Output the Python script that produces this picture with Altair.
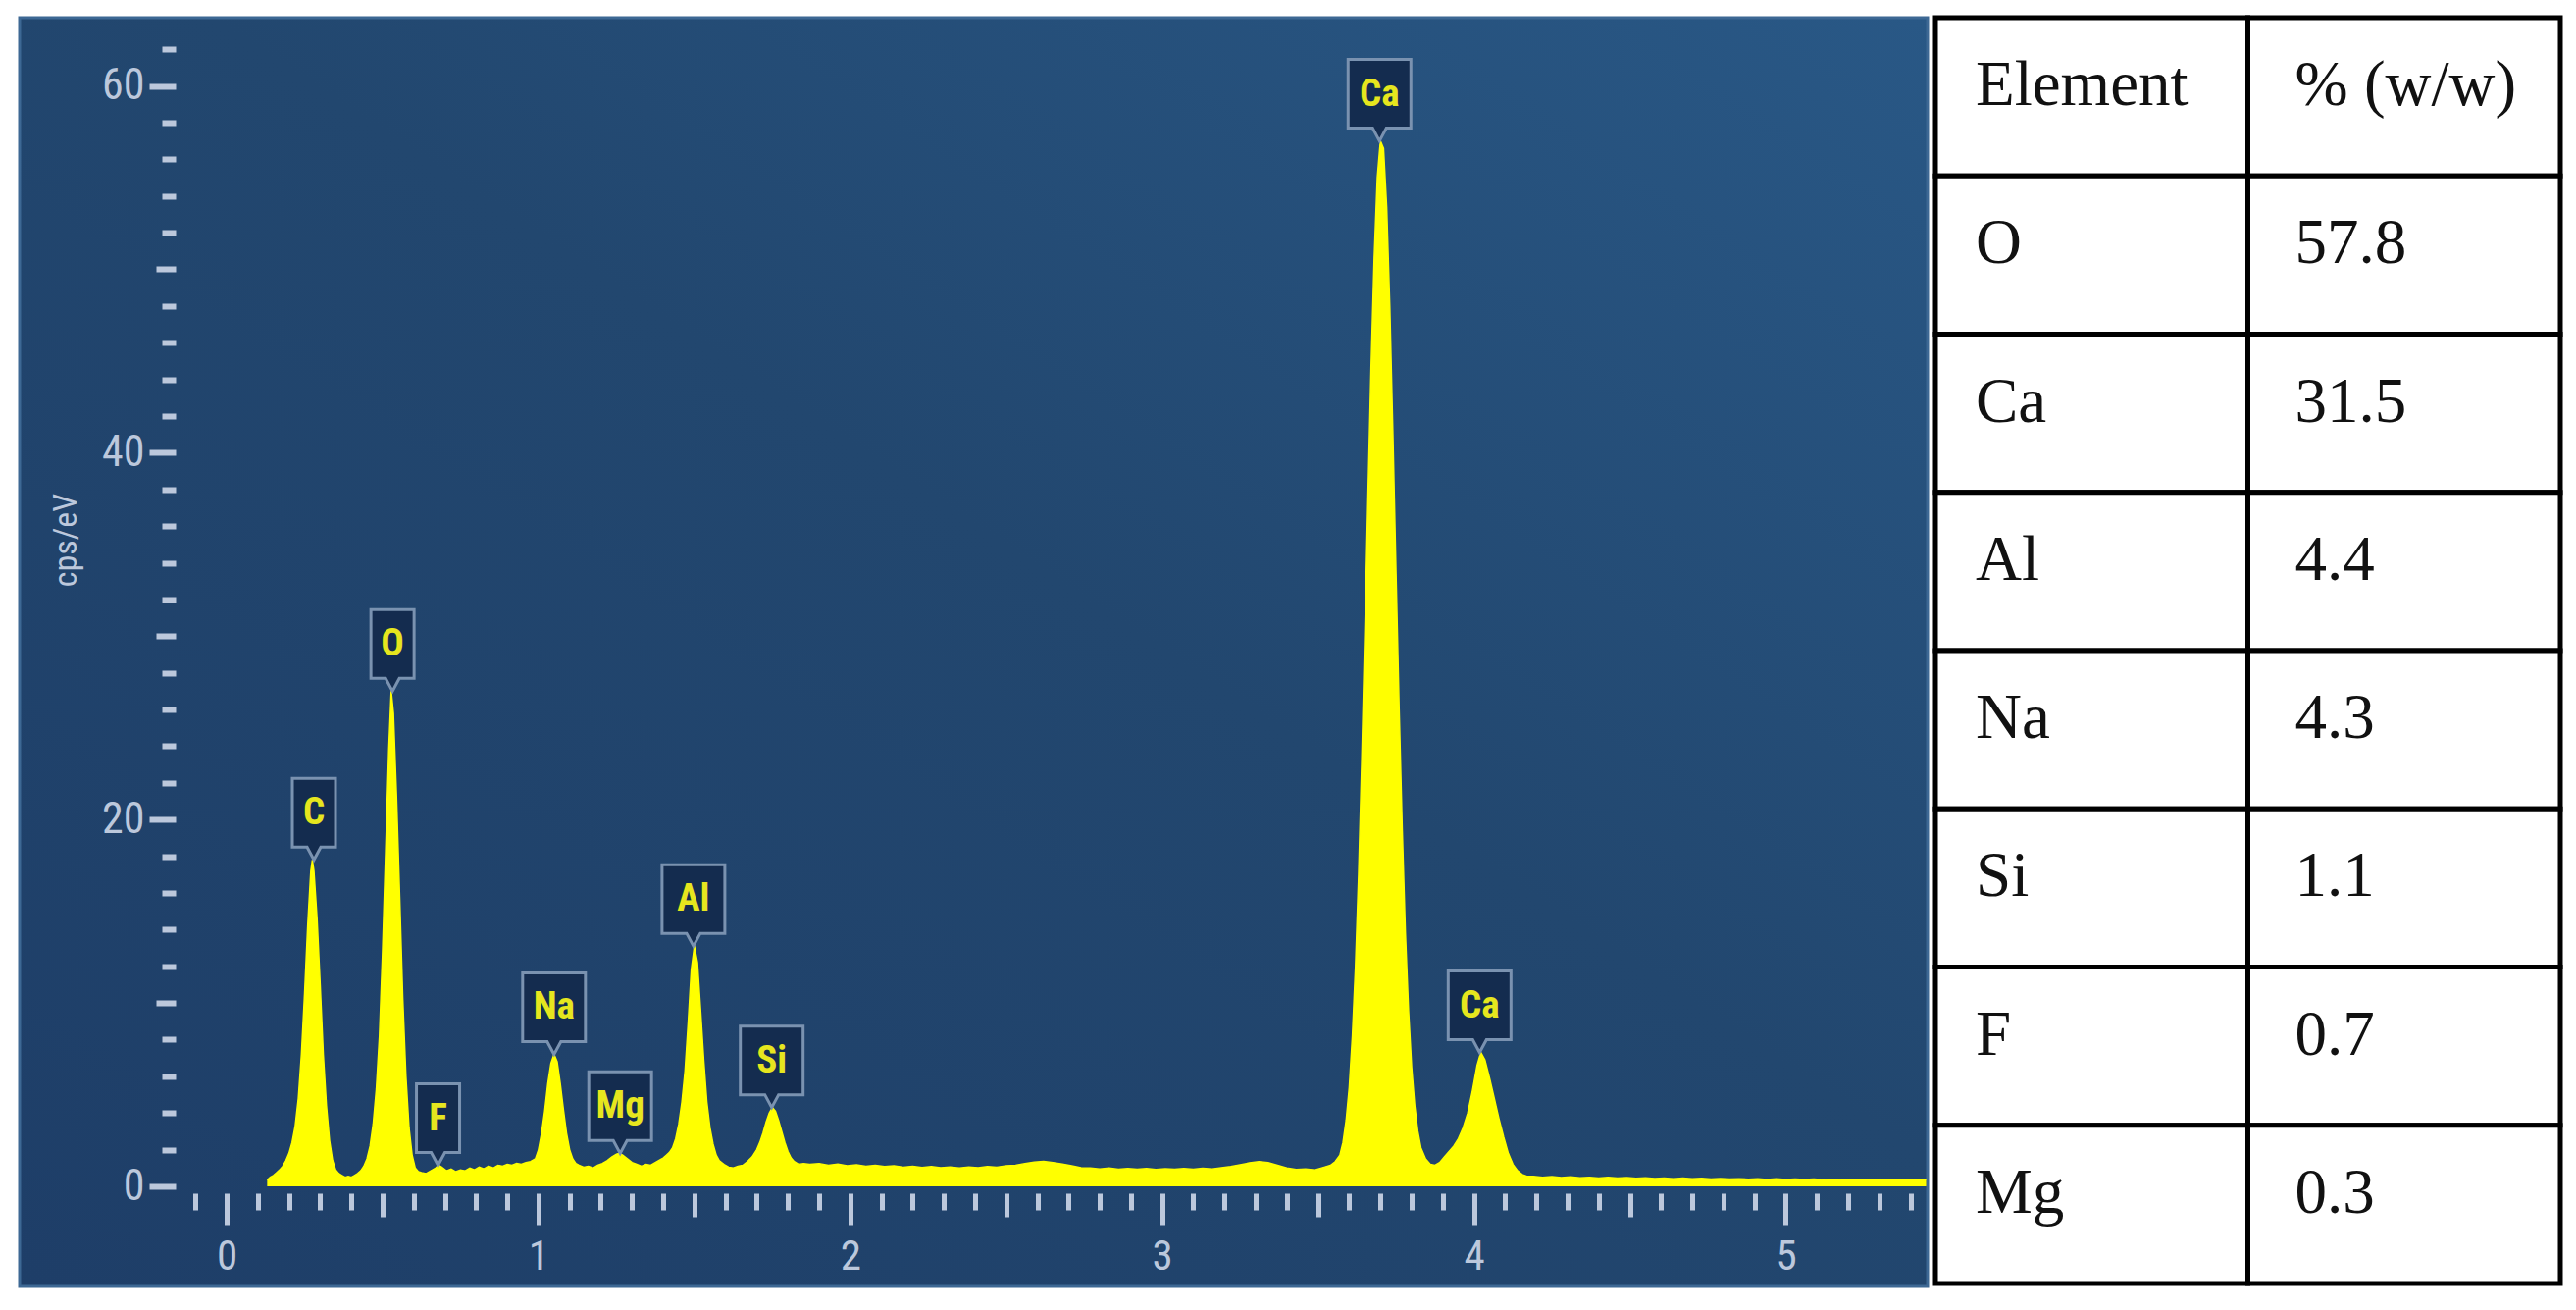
import altair as alt
import pandas as pd

# ---------------- spectrum data (keV, cps/eV) ----------------
co_kev = [0.13, 0.14, 0.15, 0.16, 0.17, 0.18, 0.19, 0.20, 0.21, 0.22,
          0.23, 0.24, 0.25, 0.26, 0.27, 0.275, 0.28, 0.29, 0.30, 0.31,
          0.32, 0.33, 0.34, 0.35, 0.36, 0.37, 0.38, 0.39, 0.40, 0.41,
          0.42, 0.43, 0.44, 0.45, 0.46, 0.47, 0.48, 0.49, 0.50, 0.51,
          0.52, 0.528, 0.535, 0.545, 0.555, 0.565, 0.575, 0.585, 0.595, 0.605,
          0.615, 0.625]
co_cps = [0.35, 0.5, 0.6, 0.75, 0.9, 1.1, 1.4, 1.8, 2.4, 3.3,
          4.8, 7.2, 10.5, 14.2, 17.2, 17.8, 17.2, 14.6, 11.0, 7.2,
          4.4, 2.5, 1.4, 0.9, 0.7, 0.6, 0.5, 0.55, 0.5, 0.6,
          0.7, 0.85, 1.1, 1.5, 2.2, 3.4, 5.3, 8.2, 12.8, 18.3,
          23.8, 27.0, 25.8, 21.2, 15.8, 10.2, 6.0, 3.2, 1.7, 1.0,
          0.8, 0.75]

f_kev = [0.64, 0.655, 0.67, 0.68, 0.69, 0.705, 0.72, 0.735, 0.75, 0.765,
         0.78, 0.795, 0.81, 0.825, 0.84, 0.855, 0.87, 0.885, 0.90, 0.915,
         0.93, 0.945, 0.96, 0.975, 0.99]
f_cps = [0.7, 0.85, 1.0, 1.15, 1.05, 0.85, 0.95, 0.8, 0.9, 0.85,
         1.0, 0.9, 1.05, 0.95, 1.1, 1.0, 1.15, 1.1, 1.2, 1.15,
         1.25, 1.2, 1.3, 1.35, 1.5]

na_kev = [1.00, 1.01, 1.02, 1.03, 1.04, 1.05, 1.06, 1.07, 1.08, 1.09, 1.10, 1.11, 1.12]
na_cps = [2.0, 2.9, 4.1, 5.6, 6.7, 7.2, 6.8, 5.6, 4.2, 2.9, 2.0, 1.5, 1.25]

mg_kev = [1.13, 1.145, 1.16, 1.175, 1.19, 1.205, 1.22, 1.235, 1.25, 1.26,
          1.27, 1.285, 1.30, 1.315, 1.33, 1.345, 1.36, 1.375, 1.39, 1.40, 1.41]
mg_cps = [1.15, 1.05, 1.1, 1.0, 1.15, 1.25, 1.4, 1.6, 1.75, 1.8,
          1.7, 1.5, 1.3, 1.2, 1.1, 1.2, 1.15, 1.3, 1.45, 1.55, 1.7]

al_kev = [1.42, 1.43, 1.44, 1.45, 1.46, 1.47, 1.48, 1.49, 1.50, 1.51,
          1.52, 1.53, 1.54, 1.55, 1.56, 1.57, 1.58, 1.595, 1.61, 1.625,
          1.64, 1.655, 1.67, 1.685]
al_cps = [1.85, 2.1, 2.6, 3.4, 4.6, 6.3, 8.9, 11.8, 13.1, 12.2,
          9.6, 6.9, 4.6, 3.2, 2.3, 1.7, 1.4, 1.2, 1.05, 1.0,
          1.1, 1.15, 1.35, 1.6]

si_kev = [1.70, 1.71, 1.72, 1.73, 1.74, 1.75, 1.76, 1.77, 1.78, 1.79, 1.80, 1.81, 1.82, 1.835, 1.85]
si_cps = [2.0, 2.4, 2.9, 3.5, 4.0, 4.3, 4.1, 3.6, 3.0, 2.4, 1.9, 1.55, 1.35, 1.2, 1.25]

bg_kev = [1.87, 1.90, 1.93, 1.96, 1.99, 2.02, 2.05, 2.08, 2.11, 2.14,
          2.17, 2.20, 2.23, 2.26, 2.29, 2.32, 2.35, 2.38, 2.41, 2.44,
          2.47, 2.50, 2.53, 2.56, 2.59, 2.62, 2.65, 2.68, 2.71, 2.74,
          2.77, 2.80, 2.83, 2.86, 2.89, 2.92, 2.95, 2.98, 3.01, 3.04,
          3.07, 3.10, 3.13, 3.16, 3.19, 3.22, 3.25, 3.28, 3.31, 3.34,
          3.37, 3.40, 3.43, 3.46, 3.49, 3.52]
bg_cps = [1.2, 1.25, 1.15, 1.22, 1.12, 1.18, 1.1, 1.15, 1.08, 1.12,
          1.05, 1.1, 1.03, 1.08, 1.02, 1.06, 1.0, 1.05, 1.02, 1.08,
          1.05, 1.12, 1.15, 1.25, 1.32, 1.36, 1.3, 1.22, 1.12, 1.02,
          1.0, 0.95, 1.0, 0.94, 0.98, 0.93, 0.97, 0.92, 0.96, 0.93,
          0.98, 0.94, 0.99, 0.95, 1.02, 1.08, 1.18, 1.28, 1.35, 1.3,
          1.15, 1.0, 0.92, 0.95, 0.9, 1.05]

caka_kev = [3.54, 3.555, 3.57, 3.58, 3.59, 3.60, 3.61, 3.62, 3.63, 3.64,
            3.65, 3.66, 3.67, 3.68, 3.69, 3.70, 3.71, 3.72, 3.73, 3.74,
            3.75, 3.76, 3.77, 3.78, 3.79, 3.80, 3.81, 3.82, 3.83, 3.845,
            3.86, 3.875]
caka_cps = [1.15, 1.35, 1.7, 2.4, 3.6, 5.4, 8.2, 12.0, 17.0, 23.2,
            30.2, 37.6, 44.6, 50.6, 55.0, 57.0, 56.6, 53.4, 48.0, 41.0,
            33.4, 26.0, 19.4, 13.8, 9.6, 6.5, 4.4, 3.0, 2.1, 1.5,
            1.2, 1.15]

cakb_kev = [3.89, 3.905, 3.92, 3.935, 3.95, 3.965, 3.98, 3.995, 4.01, 4.022,
            4.035, 4.05, 4.065, 4.08, 4.095, 4.11, 4.125, 4.14, 4.155, 4.17]
cakb_cps = [1.3, 1.6, 1.9, 2.2, 2.6, 3.2, 4.0, 5.2, 6.6, 7.3,
            6.9, 5.9, 4.8, 3.7, 2.7, 1.8, 1.2, 0.85, 0.65, 0.55]

tail_kev = [4.19, 4.22, 4.25, 4.28, 4.31, 4.34, 4.37, 4.40, 4.43, 4.46,
            4.49, 4.52, 4.55, 4.58, 4.61, 4.64, 4.67, 4.70, 4.73, 4.76,
            4.79, 4.82, 4.85, 4.88, 4.91, 4.94, 4.97, 5.00, 5.03, 5.06,
            5.09, 5.12, 5.15, 5.18, 5.21, 5.24, 5.27, 5.30, 5.33, 5.36,
            5.39, 5.42, 5.45]
tail_cps = [0.55, 0.5, 0.53, 0.48, 0.52, 0.47, 0.5, 0.46, 0.49, 0.45,
            0.48, 0.44, 0.47, 0.43, 0.46, 0.42, 0.45, 0.41, 0.44, 0.4,
            0.43, 0.4, 0.42, 0.39, 0.42, 0.38, 0.41, 0.38, 0.4, 0.37,
            0.4, 0.36, 0.39, 0.36, 0.38, 0.35, 0.38, 0.35, 0.37, 0.34,
            0.37, 0.34, 0.36]

# peak labels
label_text = ["C", "O", "F", "Na", "Mg", "Al", "Si", "Ca", "Ca"]
label_kev = [0.28, 0.532, 0.678, 1.05, 1.262, 1.497, 1.748, 3.697, 4.018]
label_cps = [17.8, 27.0, 1.15, 7.2, 1.8, 13.1, 4.3, 57.0, 7.3]

# composition table
table_header = ["Element", "% (w/w)"]
table_elements = ["O", "Ca", "Al", "Na", "Si", "F", "Mg"]
table_wt = ["57.8", "31.5", "4.4", "4.3", "1.1", "0.7", "0.3"]

# ---------------- build frames ----------------
kev = co_kev + f_kev + na_kev + mg_kev + al_kev + si_kev + bg_kev + caka_kev + cakb_kev + tail_kev
cps = co_cps + f_cps + na_cps + mg_cps + al_cps + si_cps + bg_cps + caka_cps + cakb_cps + tail_cps
assert len(kev) == len(cps)
spec_df = pd.DataFrame({"kev": kev, "cps": cps})


def box_path(lbl):
    hw = (24 + 20 * len(lbl)) / 2.0
    return (f"M0,0 L-7,-13 L{-hw},-13 L{-hw},-83 L{hw},-83 L{hw},-13 L7,-13 Z")


lab_df = pd.DataFrame({"kev": label_kev, "cps": label_cps, "label": label_text})
lab_df["path"] = [box_path(t) for t in label_text]

W, H = 1786, 1191
X_DOM = [-0.1636, 5.4546]
Y_DOM = [0, 63.72]
AX_COL = "#bcc8dc"
NARROW = "Liberation Sans Narrow, Roboto Condensed, Roboto, sans-serif"

xs = alt.Scale(domain=X_DOM, nice=False, zero=False)
ys = alt.Scale(domain=Y_DOM, nice=False, zero=False)

x_ticks = [round(i / 10, 1) for i in range(-1, 55)]
y_ticks = list(range(0, 63, 2))

x_axis = alt.Axis(
    values=x_ticks, title=None, domain=False, grid=False, offset=7,
    tickWidth=5, tickColor=AX_COL,
    tickSize={"condition": [
        {"test": "abs(datum.value - round(datum.value)) < 0.001", "value": 32},
        {"test": "abs(datum.value * 2 - round(datum.value * 2)) < 0.001", "value": 24}],
        "value": 17},
    labelExpr="abs(datum.value - round(datum.value)) < 0.001 ? format(round(datum.value), 'd') : ''",
    labelFont=NARROW, labelFontSize=43, labelColor=AX_COL, labelPadding=11,
    labelOverlap=False, labelFlush=False, zindex=1)

y_axis = alt.Axis(
    values=y_ticks, title="cps/eV", titleX=-112, titleY=532, titleAngle=270,
    titleAlign="center", titleBaseline="middle", titleFont=NARROW, titleFontSize=34,
    titleFontWeight="normal", titleColor=AX_COL,
    domain=False, grid=False, tickWidth=6, tickColor=AX_COL,
    tickSize={"condition": [
        {"test": "datum.value % 20 === 0", "value": 27},
        {"test": "datum.value % 10 === 0", "value": 20}],
        "value": 14},
    labelExpr="datum.value % 20 === 0 ? datum.label : ''",
    labelFont=NARROW, labelFontSize=44, labelColor=AX_COL, labelPadding=5,
    labelOverlap=False, zindex=1)

X = alt.X("kev:Q", scale=xs, axis=x_axis)
Y = alt.Y("cps:Q", scale=ys, axis=y_axis)

grad = alt.LinearGradient(
    gradient="linear",
    stops=[alt.GradientStop(color="#1e3e68", offset=0),
           alt.GradientStop(color="#22476f", offset=0.55),
           alt.GradientStop(color="#295886", offset=1)],
    x1=0, y1=1, x2=1, y2=0)

panel = alt.Chart(pd.DataFrame({"k": [0]})).mark_rect(
    fill=grad, stroke="#3d6894", strokeWidth=3).encode(
    x=alt.value(-159), x2=alt.value(W), y=alt.value(0), y2=alt.value(1293))

area = alt.Chart(spec_df).mark_area(color="#ffff00", interpolate="linear", clip=True).encode(x=X, y=Y)
line = alt.Chart(spec_df).mark_line(color="#ffff00", strokeWidth=1.5, clip=True).encode(x=X, y=Y)

boxes = alt.Chart(lab_df).mark_point(
    filled=True, fill="#142c4f", stroke="#7a92b0", strokeWidth=3, size=4, opacity=1).encode(
    x=X, y=Y, shape=alt.Shape("path:N", scale=None))

texts = alt.Chart(lab_df).mark_text(
    dy=-48, font=NARROW, fontSize=39, fontWeight="bold", color="#e6e61e",
    align="center", baseline="middle").encode(x=X, y=Y, text="label:N")

spectrum = alt.layer(panel, area, line, boxes, texts).properties(width=W, height=H)

# ---------------- table ----------------
rows = [table_header] + [[e, w] for e, w in zip(table_elements, table_wt)]
cells = []
for r, row in enumerate(rows):
    for c, txt in enumerate(row):
        cells.append({"row": r, "row_end": r + 1, "col": c, "col_end": c + 1, "text": txt})
cells_df = pd.DataFrame(cells)

tx = alt.Scale(domain=[0, 2], nice=False, zero=False)
ty = alt.Scale(domain=[0, 8], nice=False, zero=False, reverse=True)

cell_rects = alt.Chart(cells_df).mark_rect(fill="white", stroke="black", strokeWidth=5).encode(
    x=alt.X("col:Q", scale=tx, axis=None), x2="col_end:Q",
    y=alt.Y("row:Q", scale=ty, axis=None), y2="row_end:Q")

txt0 = alt.Chart(cells_df[cells_df["col"] == 0]).mark_text(
    align="left", baseline="alphabetic", dx=41, dy=89,
    font="Liberation Serif", fontSize=65, color="#111111").encode(
    x=alt.X("col:Q", scale=tx, axis=None), y=alt.Y("row:Q", scale=ty, axis=None), text="text:N")

txt1 = alt.Chart(cells_df[cells_df["col"] == 1]).mark_text(
    align="left", baseline="alphabetic", dx=48, dy=89,
    font="Liberation Serif", fontSize=65, color="#111111").encode(
    x=alt.X("col:Q", scale=tx, axis=None), y=alt.Y("row:Q", scale=ty, axis=None), text="text:N")

table = alt.layer(cell_rects, txt0, txt1).properties(width=637, height=1290)

chart = alt.hconcat(spectrum, table, spacing=3).properties(
    padding={"left": 10, "top": 7, "right": 5, "bottom": 5},
    background="white").configure_view(strokeWidth=0)

chart.save("out.html", embed_options={"renderer": "svg", "actions": False})
